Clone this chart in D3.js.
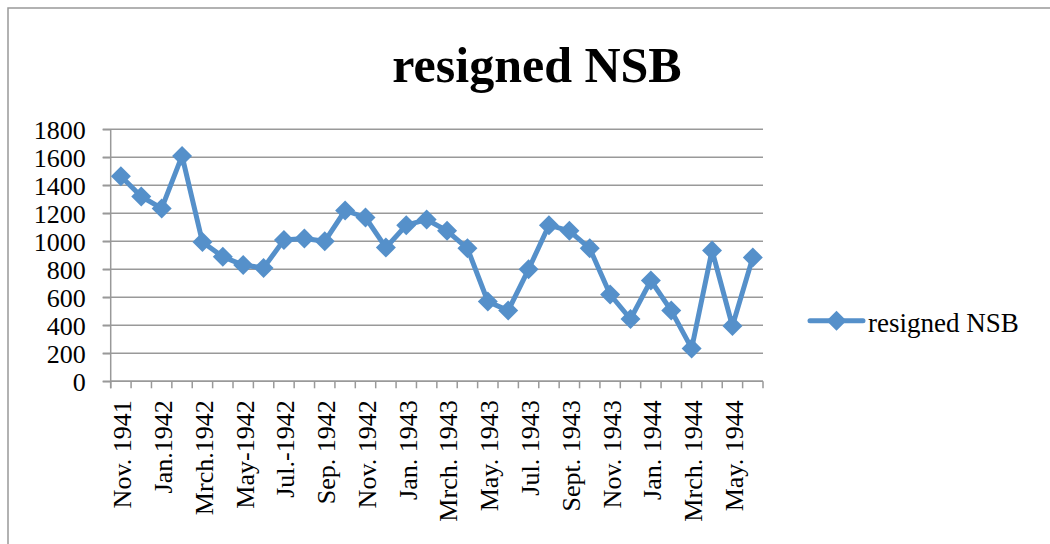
<!DOCTYPE html>
<html>
<head>
<meta charset="utf-8">
<script src="https://cdn.jsdelivr.net/npm/d3@7"></script>
<style>
  body { margin: 0; background: #fff; }
  text { font-family: "Liberation Serif", "Times New Roman", serif; fill: #000; }
</style>
</head>
<body>
<svg id="chart"></svg>
<script>
// months, every other one is labelled on the axis
var months = ["Nov. 1941", "Dec. 1941", "Jan.1942", "Feb. 1942", "Mrch.1942", "Apr. 1942",
              "May-1942", "Jun.-1942", "Jul.-1942", "Aug. 1942", "Sep. 1942", "Oct. 1942",
              "Nov. 1942", "Dec. 1942", "Jan. 1943", "Feb. 1943", "Mrch. 1943", "Apr. 1943",
              "May. 1943", "Jun. 1943", "Jul. 1943", "Aug. 1943", "Sept. 1943", "Oct. 1943",
              "Nov. 1943", "Dec. 1943", "Jan. 1944", "Feb. 1944", "Mrch. 1944", "Apr. 1944",
              "May. 1944", "Jun. 1944"];
var resigned = [1465, 1320, 1235, 1610, 995, 890, 830, 810, 1010, 1020, 1000, 1220,
                1170, 955, 1115, 1155, 1075, 950, 570, 505, 800, 1115, 1075, 950,
                620, 445, 720, 505, 235, 935, 395, 885];
var yTicks = [0, 200, 400, 600, 800, 1000, 1200, 1400, 1600, 1800];
var seriesName = "resigned NSB";

var width = 1050, height = 544;
var margin = { top: 129.3, left: 110.7, right: 287, bottom: 162.7 };
var blue = "#5590CA";
var gray = "#999999";

var svg = d3.select('#chart')
            .attr('width', width)
            .attr('height', height);

// outer frame
svg.append('rect')
   .attr('x', 8).attr('y', 8)
   .attr('width', width).attr('height', height)
   .attr('fill', 'none')
   .attr('stroke', gray)
   .attr('stroke-width', 1.5);

svg.append('text')
   .attr('x', 537).attr('y', 81.5)
   .attr('text-anchor', 'middle')
   .style('font-size', '50px')
   .style('font-weight', 'bold')
   .text(seriesName);

var x0 = margin.left, x1 = width - margin.right;
var xScale = d3.scaleBand()
               .domain(months)
               .range([x0, x1]);
var yScale = d3.scaleLinear()
               .domain([0, 1800])
               .range([height - margin.bottom, margin.top]);

// grid lines
svg.append('g')
   .selectAll('line')
   .data(yTicks)
   .enter()
   .append('line')
   .attr('x1', x0 - 8).attr('x2', x1)
   .attr('y1', d => yScale(d)).attr('y2', d => yScale(d))
   .attr('stroke', gray)
   .attr('stroke-width', 1.5);

var yAxis = d3.axisLeft(yScale)
              .tickValues(yTicks)
              .tickFormat(d3.format('d'))
              .tickSize(8)
              .tickPadding(17);
var yg = svg.append('g')
            .attr('transform', 'translate(' + x0 + ',0)')
            .call(yAxis);
yg.selectAll('line, path').attr('stroke', gray).attr('stroke-width', 1.5);
yg.selectAll('text').style('font-size', '26px').attr('dy', '0.34em');
yg.select('.domain').attr('d', 'M0,' + yScale(1800) + 'V' + (yScale(0) + 7));

// x axis: ticks between categories, labels on every other month
var xg = svg.append('g').attr('transform', 'translate(0,' + yScale(0) + ')');
xg.append('line')
  .attr('x1', x0).attr('x2', x1)
  .attr('stroke', gray).attr('stroke-width', 1.5);
xg.selectAll('.tk')
  .data(months.concat(['end']))
  .enter()
  .append('line')
  .attr('class', 'tk')
  .attr('x1', (d, i) => i < months.length ? xScale(d) : x1)
  .attr('x2', (d, i) => i < months.length ? xScale(d) : x1)
  .attr('y1', 0).attr('y2', 7)
  .attr('stroke', gray).attr('stroke-width', 1.5);
xg.selectAll('.lbl')
  .data(months.filter((d, i) => i % 2 == 0))
  .enter()
  .append('text')
  .attr('class', 'lbl')
  .attr('transform', d => 'translate(' + (xScale(d) + xScale.bandwidth() / 2) + ',19) rotate(-90)')
  .attr('dy', '0.4em')
  .attr('text-anchor', 'end')
  .style('font-size', '26px')
  .text(d => d);

// series
var cx = (d, i) => xScale(months[i]) + xScale.bandwidth() / 2;
var line = d3.line()
             .x((d, i) => cx(d, i))
             .y(d => yScale(d));
svg.append('path')
   .datum(resigned)
   .attr('d', line)
   .attr('fill', 'none')
   .attr('stroke', blue)
   .attr('stroke-width', 5)
   .attr('stroke-linejoin', 'round');

var diamond = d3.symbol().type(d3.symbolSquare).size(200);
svg.selectAll('.mk')
   .data(resigned)
   .enter()
   .append('path')
   .attr('class', 'mk')
   .attr('d', diamond)
   .attr('transform', (d, i) => 'translate(' + cx(d, i) + ',' + yScale(d) + ') rotate(45)')
   .attr('fill', blue);

// legend
var lg = svg.append('g').attr('transform', 'translate(810,320.7)');
lg.append('line')
  .attr('x1', 0).attr('x2', 53)
  .attr('stroke', blue).attr('stroke-width', 5).attr('stroke-linecap', 'round');
lg.append('path')
  .attr('d', diamond)
  .attr('transform', 'translate(26.5,0) rotate(45)')
  .attr('fill', blue);
lg.append('text')
  .attr('x', 58).attr('y', 11)
  .style('font-size', '27px')
  .text(seriesName);
</script>
</body>
</html>
